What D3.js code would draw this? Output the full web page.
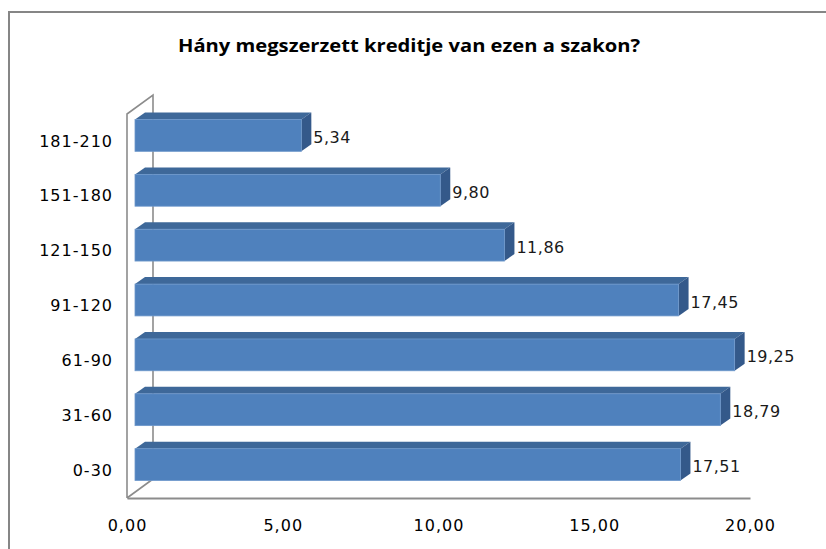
<!DOCTYPE html>
<html>
<head>
<meta charset="utf-8">
<script src="https://cdn.jsdelivr.net/npm/d3@7"></script>
<style>
  body { margin: 0; background: #fff; }
  svg { display: block; }
</style>
</head>
<body>
<div id="chart"></div>
<script>
// data
var categories = ["181-210", "151-180", "121-150", "91-120", "61-90", "31-60", "0-30"];
var values = [5.34, 9.80, 11.86, 17.45, 19.25, 18.79, 17.51];
var xTicks = [0, 5, 10, 15, 20];
var title = "Hány megszerzett kreditje van ezen a szakon?";

var svgWidth = 826;
var svgHeight = 549;

// front plane of the 3d box
var plot = { left: 127, right: 750, top: 114, bottom: 498 };
var wallDepth = { x: 26, y: -19 };
var barShift = { x: 8, y: -6 };
var barDepth = { x: 10, y: -7 };

var labelFont = "'DejaVu Sans', Verdana, sans-serif";

var svg = d3.select("#chart")
  .append("svg")
  .attr("width", svgWidth)
  .attr("height", svgHeight);

// outer frame
svg.append("rect")
  .attr("x", 9)
  .attr("y", 12)
  .attr("width", 840)
  .attr("height", 560)
  .attr("fill", "none")
  .attr("stroke", "#868686")
  .attr("stroke-width", 2);

svg.append("text")
  .attr("x", 409)
  .attr("y", 52)
  .attr("text-anchor", "middle")
  .attr("font-family", "'Liberation Sans Narrow', 'Open Sans', sans-serif")
  .attr("font-weight", "bold")
  .attr("font-size", "18px")
  .attr("textLength", 462)
  .attr("lengthAdjust", "spacingAndGlyphs")
  .attr("fill", "#000")
  .text(title);

var xScale = d3.scaleLinear()
  .domain([0, 20])
  .range([plot.left, plot.right]);

var yScale = d3.scaleBand()
  .domain(categories)
  .range([plot.top, plot.bottom])
  .paddingInner(0.42)
  .paddingOuter(0.21);

// walls
svg.append("path")
  .attr("fill", "none")
  .attr("stroke", "#8c8c8c")
  .attr("stroke-width", 1.6)
  .attr("d", d3.line()([
    [plot.left, plot.bottom],
    [plot.left, plot.top],
    [plot.left + wallDepth.x, plot.top + wallDepth.y],
    [plot.left + wallDepth.x, plot.bottom + wallDepth.y],
    [plot.left, plot.bottom]
  ]));

// axes
var bottomAxis = d3.axisBottom(xScale)
  .tickValues(xTicks)
  .tickSize(0)
  .tickPadding(22)
  .tickFormat(d => d3.format(".2f")(d).replace(".", ","));

var leftAxis = d3.axisLeft(yScale)
  .tickSize(0)
  .tickPadding(14);

var xAxisG = svg.append("g")
  .attr("transform", `translate(0, ${plot.bottom})`)
  .call(bottomAxis);

xAxisG.select(".domain")
  .attr("stroke", "#8c8c8c")
  .attr("stroke-width", 1.8);

xAxisG.selectAll("text")
  .attr("font-family", labelFont)
  .attr("font-size", "16px")
  .attr("letter-spacing", "1px")
  .attr("fill", "#000");

var yAxisG = svg.append("g")
  .attr("transform", `translate(${plot.left}, 0)`)
  .call(leftAxis);

yAxisG.select(".domain").remove();

yAxisG.selectAll("text")
  .attr("font-family", labelFont)
  .attr("font-size", "16px")
  .attr("letter-spacing", "1px")
  .attr("fill", "#000");

// bars
var rows = categories.map((c, i) => ({ cat: c, val: values[i] }));

var bars = svg.selectAll(".bar")
  .data(rows)
  .enter()
  .append("g")
  .attr("class", "bar");

function geom(d) {
  var x0 = xScale(0) + barShift.x;
  var x1 = xScale(d.val) + barShift.x;
  var yt = yScale(d.cat) + barShift.y;
  var yb = yt + yScale.bandwidth();
  return { x0: x0, x1: x1, yt: yt, yb: yb };
}

bars.append("polygon")
  .attr("points", d => {
    var g = geom(d);
    return [
      [g.x0, g.yt], [g.x1, g.yt],
      [g.x1 + barDepth.x, g.yt + barDepth.y],
      [g.x0 + barDepth.x, g.yt + barDepth.y]
    ].join(" ");
  })
  .attr("fill", "#3e6899");

bars.append("polygon")
  .attr("points", d => {
    var g = geom(d);
    return [
      [g.x1, g.yt],
      [g.x1 + barDepth.x, g.yt + barDepth.y],
      [g.x1 + barDepth.x, g.yb + barDepth.y],
      [g.x1, g.yb]
    ].join(" ");
  })
  .attr("fill", "#34598a");

bars.append("rect")
  .attr("x", d => geom(d).x0)
  .attr("y", d => geom(d).yt)
  .attr("width", d => geom(d).x1 - geom(d).x0)
  .attr("height", yScale.bandwidth())
  .attr("fill", "#4f81bd")
  .attr("stroke", "#6d97cb")
  .attr("stroke-width", 0.8);

// value labels
bars.append("text")
  .attr("x", d => geom(d).x1 + barDepth.x + 2)
  .attr("y", d => (geom(d).yt + geom(d).yb) / 2 + 2)
  .attr("dy", "0.35em")
  .attr("font-family", labelFont)
  .attr("font-size", "16px")
  .attr("letter-spacing", "0.5px")
  .attr("fill", "#1a1a1a")
  .text(d => d3.format(".2f")(d.val).replace(".", ","));
</script>
</body>
</html>
